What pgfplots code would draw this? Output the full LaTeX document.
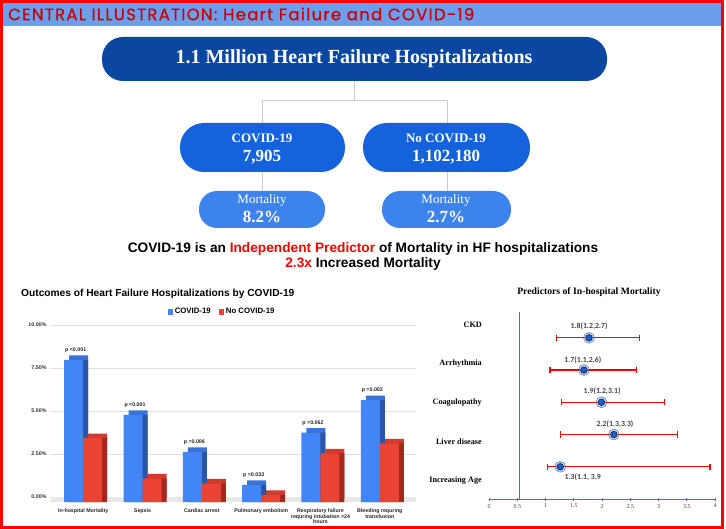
\documentclass[border=0pt]{standalone}
\usepackage{fontspec}
\setmainfont{Liberation Serif}
\newfontfamily\arial{Liberation Sans}
\newfontfamily\poppins{Poppins}[LetterSpace=7.8, FakeBold=0.6]
\newfontfamily\carlito{Carlito}
\usepackage{pgfplots}
\pgfplotsset{compat=1.18}
\definecolor{hdr}{HTML}{6D9EEB}
\definecolor{hdrtext}{HTML}{CC0000}
\definecolor{pillA}{HTML}{0B47A1}
\definecolor{pillB}{HTML}{1463DD}
\definecolor{pillC}{HTML}{3C83EE}
\definecolor{cblue}{HTML}{4285F4}
\definecolor{cred}{HTML}{EA4335}
\definecolor{cblueT}{HTML}{3A74DA}
\definecolor{credT}{HTML}{D23A2D}
\definecolor{cblueS}{HTML}{2A55A8}
\definecolor{credS}{HTML}{A3281D}
\definecolor{dotblue}{HTML}{1A5FC8}
\definecolor{glow}{HTML}{7FB0FF}
\definecolor{axblue}{HTML}{4472C4}
\definecolor{conn}{HTML}{CCCCCC}

\pgfplotstableread{
x blue red
0 8.26 3.72
1 5.06 1.38
2 2.92 1.09
3 0.99 0.41
4 4.03 2.83
5 5.93 3.41
}\outcomes

\begin{document}
\begin{tikzpicture}
\useasboundingbox (0pt,0pt) rectangle (726pt,-529pt);
\begin{scope}[x=1pt,y=-1pt]
\fill[white] (0,0) rectangle (726,529);
\fill[hdr] (2,2) rectangle (722,26);
\node[anchor=west, inner sep=0, text=hdrtext, font=\poppins\fontsize{16.5}{18}\selectfont] at (8,14) {CENTRAL ILLUSTRATION: Heart Failure and COVID-19};
% connectors
\draw[conn, line width=1pt] (354,81) -- (354,101) (262,123) -- (262,101) -- (447,101) -- (447,123)
  (262,172) -- (262,191) (447,172) -- (447,191);
% pills
\fill[pillA, rounded corners=21] (102,37) rectangle (607,81);
\node[text=white, font=\bfseries\fontsize{20}{22}\selectfont] at (354,59) {1.1 Million Heart Failure Hospitalizations};
\fill[pillB, rounded corners=24] (180,123) rectangle (345,172);
\fill[pillB, rounded corners=24] (363,123) rectangle (530,172);
\node[text=white, font=\bfseries\fontsize{13}{15}\selectfont] at (262,138) {COVID-19};
\node[text=white, font=\bfseries\fontsize{17}{19}\selectfont] at (262,157) {7,905};
\node[text=white, font=\bfseries\fontsize{13}{15}\selectfont] at (446,138) {No COVID-19};
\node[text=white, font=\bfseries\fontsize{17}{19}\selectfont] at (446,157) {1,102,180};
\fill[pillC, rounded corners=18] (199,191) rectangle (325,228);
\fill[pillC, rounded corners=18] (382,191) rectangle (511,228);
\node[text=white, font=\fontsize{13}{15}\selectfont] at (262,200) {Mortality};
\node[text=white, font=\bfseries\fontsize{17}{19}\selectfont] at (262,217) {8.2\%};
\node[text=white, font=\fontsize{13}{15}\selectfont] at (446,200) {Mortality};
\node[text=white, font=\bfseries\fontsize{17}{19}\selectfont] at (446,217) {2.7\%};
% statement
\node[font=\arial\bfseries\fontsize{13.7}{16}\selectfont] at (363,249) {COVID-19 is an \textcolor{red}{Independent Predictor} of Mortality in HF hospitalizations};
\node[font=\arial\bfseries\fontsize{13.7}{16}\selectfont] at (363,264) {\textcolor{red}{2.3x} Increased Mortality};
% chart titles
\node[anchor=west, inner sep=0, font=\arial\bfseries\fontsize{10.2}{12}\selectfont] at (21,294) {Outcomes of Heart Failure Hospitalizations by COVID-19};
\node[font=\bfseries\fontsize{9.7}{11}\selectfont] at (589,292) {Predictors of In-hospital Mortality};
% forest row labels
\foreach \yy/\lab in {325/CKD,364/Arrhythmia,403/Coagulopathy,442/Liver disease,481/Increasing Age}
  \node[anchor=east, inner sep=0, font=\bfseries\fontsize{8.2}{10}\selectfont] at (482,\yy) {\lab};
% frame
\draw[red, line width=3pt] (1.5,1.5) rectangle (722.5,527.5);
\end{scope}

% ---------------- bar chart ----------------
\begin{axis}[
  at={(50pt,-502pt)}, anchor=south west, scale only axis,
  width=366pt, height=172pt,
  xmin=-0.56, xmax=5.61, ymin=0, ymax=10,
  ybar, bar width=19pt,
  axis line style={draw=none}, tick style={draw=none},
  ytick={0,2.5,5,7.5,10},
  yticklabels={0.00\%,2.50\%,5.00\%,7.50\%,10.00\%},
  yticklabel style={font=\arial\bfseries\fontsize{5.3}{6}\selectfont, text=black!80, yshift=5pt},
  ymajorgrids, major grid style={draw=black!12, line width=0.7pt, yshift=5pt},
  xtick={0,...,5},
  xticklabels={In-hospital Mortality, Sepsis, Cardiac arrest, Pulmonary embolism,
    {Respiratory failure\\requring intubation >24\\hours}, {Bleeding requring\\transfusion}},
  xticklabel style={font=\arial\bfseries\fontsize{5.3}{5.6}\selectfont, align=center, text=black!85, yshift=1pt},
  legend style={at={(0.47,1.105)}, anchor=center, draw=none, fill=none,
    legend columns=2, font=\arial\bfseries\fontsize{7.8}{9}\selectfont,
    /tikz/every even column/.append style={column sep=6pt}},
  legend image code/.code={\fill[#1] (0pt,-2.6pt) rectangle (5.2pt,2.6pt);},
  clip=false,
]
\fill[black!9] (axis cs:-0.56,0) -- (axis cs:5.61,0) -- ([yshift=5pt]axis cs:5.61,0) -- ([xshift=3pt,yshift=5pt]axis cs:-0.56,0) -- cycle;
% top faces
\addplot[fill=cblueT, draw=none, bar shift=-9.5pt, xshift=5pt, yshift=4.5pt, forget plot] table[x=x,y=blue] {\outcomes};
\addplot[fill=credT, draw=none, bar shift=9.5pt, xshift=5pt, yshift=4.5pt, forget plot] table[x=x,y=red] {\outcomes};
% side faces
\addplot[fill=cblueS, draw=none, bar shift=-9.5pt, xshift=5pt, forget plot] table[x=x,y=blue] {\outcomes};
\addplot[fill=credS, draw=none, bar shift=9.5pt, xshift=5pt, forget plot] table[x=x,y=red] {\outcomes};
% fronts
\addplot[fill=cblue, draw=none, bar shift=-9.5pt,
  nodes near coords, point meta=explicit symbolic,
  nodes near coords style={font=\arial\bfseries\fontsize{5.3}{6}\selectfont, text=black!85, anchor=south, yshift=4pt, xshift=2pt}]
  coordinates {(0,8.26) [p <0.001] (1,5.06) [p <0.001] (2,2.92) [p =0.006] (3,0.99) [p =0.033] (4,4.03) [p =0.062] (5,5.93) [p =0.002]};
\addlegendentry{COVID-19}
\addplot[fill=cred, draw=none, bar shift=9.5pt] table[x=x,y=red] {\outcomes};
\addlegendentry{No COVID-19}
\end{axis}

% ---------------- forest plot ----------------
\begin{axis}[
  at={(489pt,-499pt)}, anchor=south west, scale only axis,
  width=226pt, height=187pt,
  xmin=0, xmax=4, ymin=0, ymax=5.8,
  axis x line*=bottom, axis y line=none,
  x axis line style={draw=axblue, line width=0.8pt},
  xtick={0,0.5,...,4},
  xtick style={draw=axblue, line width=0.6pt}, tick align=center, major tick length=3pt,
  xticklabel style={font=\fontsize{6}{7}\selectfont, text=black!75},
  /pgf/number format/assume math mode=true,
  clip=false,
]
\addplot[axblue, line width=0.8pt, no markers] coordinates {(0.53,0) (0.53,5.8)};
\addplot[draw=none, mark=none,
  error bars/.cd, x dir=both, x explicit,
  error bar style={draw=red, line width=1.3pt},
  error mark options={draw=red, line width=1.2pt, mark size=3.2pt, rotate=90}]
  coordinates {
  (1.77,5) -= (0.58,0) += (0.90,0)
  (1.68,4) -= (0.60,0) += (0.93,0)
  (1.99,3) -= (0.70,0) += (1.12,0)
  (2.21,2) -= (0.94,0) += (1.12,0)
  (1.26,1) -= (0.23,0) += (2.65,0)
  };
\addplot[only marks, mark=*, mark size=5.5pt, mark options={draw=none, fill=glow, opacity=0.55}]
  coordinates {(1.77,5) (1.68,4) (1.99,3) (2.21,2) (1.26,1)};
\addplot[only marks, mark=*, mark size=3.3pt, mark options={draw=none, fill=dotblue}]
  coordinates {(1.77,5) (1.68,4) (1.99,3) (2.21,2) (1.26,1)};
\node[font=\carlito\bfseries\fontsize{7.8}{9}\selectfont, text=black!72] at (axis cs:1.77,5.36) {1.8(1.2,2.7)};
\node[font=\carlito\bfseries\fontsize{7.8}{9}\selectfont, text=black!72] at (axis cs:1.66,4.32) {1.7(1.1,2.6)};
\node[font=\carlito\bfseries\fontsize{7.8}{9}\selectfont, text=black!72] at (axis cs:2.00,3.33) {1.9(1.2,3.1)};
\node[font=\carlito\bfseries\fontsize{7.8}{9}\selectfont, text=black!72] at (axis cs:2.23,2.33) {2.2(1.3,3.3)};
\node[font=\carlito\bfseries\fontsize{7.8}{9}\selectfont, text=black!72] at (axis cs:1.66,0.69) {1.3(1.1, 3.9};
\end{axis}
\end{tikzpicture}
\end{document}
